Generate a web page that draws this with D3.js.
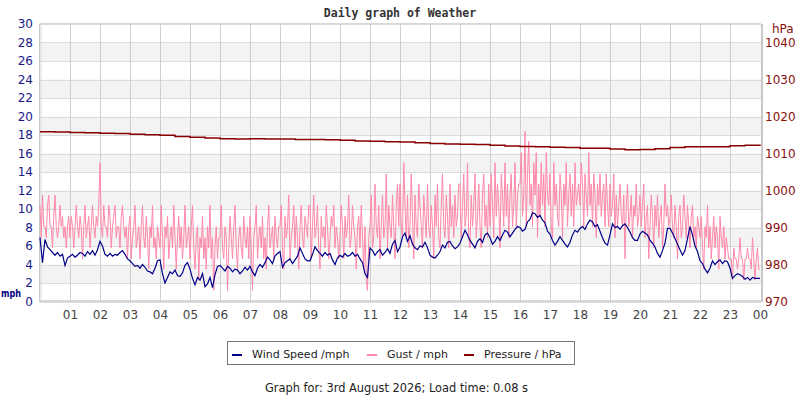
<!DOCTYPE html>
<html><head><meta charset="utf-8">
<script src="https://cdn.jsdelivr.net/npm/d3@7/dist/d3.min.js"></script>
<style>
html,body{margin:0;padding:0;background:#fff;}
svg text{font-family:"DejaVu Sans",Verdana,sans-serif;}
</style></head>
<body>
<svg id="chart" width="800" height="400"></svg>
<script>
// ---- data ----
const title = "Daily graph of Weather";
const footer = "Graph for: 3rd August 2026; Load time: 0.08 s";
const hourLabels = ["01","02","03","04","05","06","07","08","09","10","11","12","13","14","15","16","17","18","19","20","21","22","23","00"];
const mphTicks = [0,2,4,6,8,10,12,14,16,18,20,22,24,26,28,30];
const hpaTicks = [970,980,990,1000,1010,1020,1030,1040];
const seriesNames = ["Wind Speed /mph","Gust / mph","Pressure / hPa"];

// wind speed, mph, every 5 minutes from 00:00
const windSpeed = [
6.9,4.2,6.7,5.9,5.6,5.3,5.0,5.3,4.9,5.1,3.9,4.7,
4.9,5.1,4.8,5.0,5.3,5.2,4.9,5.4,5.1,5.5,5.0,5.6,
6.5,6.0,5.1,4.9,5.2,4.9,5.1,5.0,5.3,5.5,5.1,4.6,
4.4,4.1,3.8,3.9,3.6,4.0,3.7,3.3,3.2,3.0,3.6,4.4,
4.5,3.0,2.0,2.6,3.2,3.0,3.4,2.8,2.7,3.1,3.9,4.2,
3.5,2.5,1.8,2.6,2.3,3.0,1.6,1.9,2.6,1.5,2.9,3.8,
3.9,3.6,3.3,3.8,3.6,3.2,3.5,3.4,3.0,3.3,3.7,3.4,
3.8,3.2,2.8,3.6,4.0,3.7,4.2,4.8,4.5,4.1,4.9,5.2,
5.4,3.7,4.2,4.4,4.6,4.1,4.5,4.9,5.8,5.2,4.6,4.4,
4.4,5.1,5.9,5.5,5.2,4.9,5.3,5.0,5.2,4.5,4.0,4.7,
5.0,4.8,5.2,4.9,5.0,5.3,4.9,5.1,4.6,4.2,3.0,2.6,
5.8,5.5,5.0,5.4,5.6,5.0,5.3,5.7,5.2,6.2,6.6,5.4,
5.9,7.0,7.4,6.5,7.1,6.2,5.8,5.6,6.0,5.9,6.4,5.8,
5.0,4.8,4.7,5.0,5.4,6.1,5.8,6.4,6.5,6.0,5.7,5.9,
6.3,7.0,7.7,7.2,6.6,6.2,5.8,6.5,6.8,6.4,7.2,7.4,
6.9,6.2,6.5,7.0,6.6,7.2,7.7,7.5,7.0,7.4,7.8,8.1,
8.0,7.6,7.8,8.6,8.9,9.6,9.5,9.1,9.3,8.8,8.5,7.6,
7.3,6.6,6.1,6.5,7.0,6.6,6.2,5.9,6.4,7.2,7.7,7.5,
7.9,8.1,7.8,8.4,8.8,8.6,8.1,8.3,7.6,6.9,6.3,6.1,
7.2,8.4,8.0,8.1,7.8,8.2,8.4,8.0,7.5,6.9,6.6,6.6,
7.3,7.6,7.4,7.2,6.6,6.3,5.9,5.2,4.8,5.5,6.3,7.9,
7.9,7.4,6.8,6.2,5.6,5.0,5.5,6.8,8.1,7.2,6.0,5.4,
4.4,4.1,3.5,3.1,3.6,4.4,4.0,4.3,4.5,4.1,4.4,4.3,
3.6,2.5,2.8,3.0,2.9,2.7,2.4,2.6,2.3,2.6,2.5,2.5,
2.5];

// gust, mph, every 2.5 minutes from 00:00
const gust = [
10.4,6.9,11.5,8.1,8.1,6.9,10.4,11.5,8.1,8.1,5.8,9.2,11.5,8.1,6.9,8.1,10.4,8.1,9.2,6.9,8.1,5.8,8.1,9.2,
6.9,9.2,8.1,5.8,8.1,10.4,8.1,6.9,9.2,8.1,4.6,8.1,10.4,6.9,8.1,9.2,5.8,8.1,10.4,8.1,6.9,9.2,8.1,10.4,
15.0,8.1,6.9,10.4,8.1,8.1,6.9,10.4,9.2,5.8,8.1,9.2,10.4,6.9,8.1,8.1,5.8,9.2,10.4,8.1,6.9,8.1,4.6,8.1,
9.2,4.6,6.9,8.1,10.4,5.8,6.9,8.1,4.6,8.1,10.4,6.9,5.8,9.2,6.9,3.5,8.1,6.9,10.4,5.8,6.9,4.6,8.1,6.9,
5.8,10.4,6.9,3.5,8.1,6.9,9.2,4.6,6.9,8.1,5.8,10.4,6.9,3.5,6.9,9.2,5.8,8.1,4.6,6.9,10.4,5.8,6.9,8.1,
4.6,8.1,10.4,5.8,3.5,6.9,8.1,2.3,6.9,5.8,9.2,4.6,6.9,3.5,8.1,5.8,10.4,4.6,6.9,1.2,5.8,8.1,4.6,6.9,
6.9,10.4,5.8,4.6,8.1,6.9,1.2,5.8,9.2,6.9,4.6,8.1,10.4,5.8,3.5,6.9,8.1,5.8,4.6,9.2,6.9,5.8,8.1,4.6,
9.2,5.8,1.2,6.9,8.1,10.4,4.6,6.9,8.1,5.8,9.2,4.6,6.9,3.5,8.1,10.4,5.8,6.9,8.1,4.6,9.2,6.9,5.8,8.1,
8.1,10.4,5.8,3.5,9.2,6.9,8.1,11.5,4.6,6.9,8.1,10.4,5.8,9.2,6.9,3.5,8.1,10.4,6.9,5.8,9.2,8.1,6.9,10.4,
10.4,4.6,8.1,11.5,6.9,8.1,10.4,5.8,3.5,9.2,6.9,8.1,5.8,10.4,8.1,4.6,6.9,9.2,8.1,10.4,5.8,8.1,6.9,4.6,
6.9,10.4,8.1,4.6,9.2,6.9,8.1,11.5,5.8,6.9,10.4,8.1,6.9,3.5,8.1,9.2,5.8,10.4,6.9,3.5,8.1,2.3,1.2,6.9,
8.1,11.5,5.8,6.9,12.7,8.1,6.9,10.4,4.6,8.1,11.5,6.9,8.1,13.8,5.8,10.4,8.1,6.9,11.5,8.1,4.6,10.4,12.7,8.1,
12.7,8.1,6.9,15.0,10.4,6.9,11.5,5.8,8.1,13.8,9.2,4.6,11.5,8.1,6.9,12.7,10.4,8.1,5.8,11.5,9.2,6.9,12.7,8.1,
6.9,10.4,8.1,4.6,11.5,8.1,12.7,6.9,5.8,10.4,13.8,8.1,6.9,11.5,9.2,5.8,12.7,8.1,10.4,6.9,11.5,8.1,9.2,12.7,
12.7,6.9,10.4,13.8,8.1,9.2,15.0,6.9,5.8,11.5,8.1,10.4,13.8,6.9,9.2,12.7,8.1,5.8,11.5,13.8,8.1,10.4,6.9,12.7,
8.1,13.8,10.4,6.9,15.0,9.2,12.7,10.4,5.8,13.8,11.5,8.1,15.0,9.2,12.7,6.9,11.5,13.8,8.1,10.4,15.0,8.1,11.5,12.7,
12.7,16.1,9.2,11.5,18.4,8.1,13.8,17.3,10.4,12.7,8.1,15.0,11.5,16.1,6.9,12.7,9.2,15.0,10.4,13.8,8.1,16.1,11.5,10.4,
13.8,8.1,6.9,15.0,10.4,12.7,9.2,8.1,13.8,11.5,6.9,12.7,10.4,15.0,8.1,11.5,13.8,9.2,12.7,8.1,15.0,10.4,11.5,12.7,
10.4,15.0,12.7,8.1,13.8,11.5,9.2,16.1,10.4,12.7,8.1,13.8,11.5,6.9,12.7,10.4,13.8,9.2,11.5,12.7,8.1,13.8,10.4,8.1,
12.7,9.2,10.4,13.8,6.9,11.5,8.1,10.4,12.7,9.2,8.1,11.5,4.6,10.4,12.7,8.1,9.2,11.5,6.9,10.4,9.2,12.7,8.1,9.2,
11.5,8.1,10.4,12.7,6.9,9.2,10.4,4.6,8.1,11.5,9.2,5.8,10.4,8.1,11.5,6.9,9.2,10.4,5.8,8.1,12.7,9.2,10.4,8.1,
9.2,11.5,8.1,6.9,10.4,8.1,4.6,9.2,10.4,6.9,8.1,11.5,9.2,6.9,10.4,8.1,5.8,9.2,10.4,6.9,8.1,5.8,9.2,8.1,
6.9,9.2,5.8,3.5,8.1,6.9,10.4,5.8,8.1,4.6,6.9,9.2,5.8,8.1,6.9,3.5,9.2,6.9,5.8,8.1,4.6,6.9,5.8,4.6,
4.6,4.6,2.3,5.8,4.6,4.6,3.5,4.6,6.9,4.6,4.6,2.3,4.6,4.6,5.8,4.6,4.6,3.5,6.9,4.6,2.3,4.6,5.8,3.5,
3.5];

// pressure, hPa, every 30 minutes from 00:00
const pressure = [
1015.9,1015.8,1015.7,1015.6,1015.5,1015.4,1015.2,1015.1,1014.9,1014.6,
1014.4,1014.2,1014.0,1013.9,1014.0,1013.9,1013.9,1013.8,1013.8,1013.7,
1013.6,1013.4,1013.3,1013.2,1013.1,1012.9,1012.7,1012.6,1012.5,1012.4,
1012.2,1012.0,1011.9,1011.8,1011.7,1011.6,1011.4,1011.4,1011.2,1011.0,
1011.1,1011.3,1011.6,1011.8,1011.8,1011.8,1012.1,1012.2,1012.4];

// ---- chart ----
const svg = d3.select("#chart");
const L = 40, R = 761, T = 24, B = 301.5;
const x = d3.scaleLinear().domain([0, 24]).range([L, 760]);
const yL = d3.scaleLinear().domain([0, 30]).range([B, T]);
const yR = d3.scaleLinear().domain([970, 1045]).range([B, T]);

const windPts = windSpeed.map((v, i) => [i / 12, v]);
const gustPts = gust.map((v, i) => [i / 24, v]);
const presPts = pressure.map((v, i) => [i / 2, v]);

// title
svg.append("text").attr("x", 400).attr("y", 17).attr("text-anchor", "middle")
  .style("font-family", "'DejaVu Sans Mono',monospace").style("font-weight", "bold")
  .style("font-size", "11.5px").attr("fill", "#333").text(title);

// bands
const bands = mphTicks.slice(0, -1).filter((t, i) => i % 2 === 1);
svg.append("g").selectAll("rect").data(bands).join("rect")
  .attr("x", L).attr("width", R - L)
  .attr("y", d => yL(d + 2)).attr("height", d => yL(d) - yL(d + 2))
  .attr("fill", "#f3f3f3");

// horizontal grid
svg.append("g").selectAll("line").data(mphTicks).join("line")
  .attr("x1", L).attr("x2", R)
  .attr("y1", d => Math.round(yL(d)) + 0.5).attr("y2", d => Math.round(yL(d)) + 0.5)
  .attr("stroke", "#dcdcdc").attr("stroke-width", 1);

// vertical grid
svg.append("g").selectAll("line").data(d3.range(1, 24)).join("line")
  .attr("x1", d => Math.round(x(d)) + 0.5).attr("x2", d => Math.round(x(d)) + 0.5)
  .attr("y1", T).attr("y2", B)
  .attr("stroke", "#cfcfcf").attr("stroke-width", 1);

// frame
svg.append("line").attr("x1", 39.5).attr("x2", 39.5).attr("y1", T).attr("y2", B).attr("stroke", "#c8c8c8");
svg.append("line").attr("x1", 41).attr("x2", 41).attr("y1", T).attr("y2", B).attr("stroke", "#d8d8d8");
svg.append("line").attr("x1", 762).attr("x2", 762).attr("y1", T).attr("y2", B).attr("stroke", "#c8c8c8").attr("stroke-width", 2);
svg.append("line").attr("x1", L).attr("x2", R).attr("y1", 23.5).attr("y2", 23.5).attr("stroke", "#d8d8d8");
svg.append("line").attr("x1", 39).attr("x2", 763).attr("y1", 301).attr("y2", 301).attr("stroke", "#c8c8c8").attr("stroke-width", 1.5);

// series
const lineL = d3.line().x(d => x(d[0])).y(d => yL(d[1]));
const lineR = d3.line().x(d => x(d[0])).y(d => yR(d[1])).curve(d3.curveStepAfter);

svg.append("path").datum(gustPts).attr("d", lineL)
  .attr("fill", "none").attr("stroke", "#ff88aa").attr("stroke-width", 1);
svg.append("path").datum(windPts).attr("d", lineL)
  .attr("fill", "none").attr("stroke", "#000088").attr("stroke-width", 1.2);
svg.append("path").datum(presPts).attr("d", lineR)
  .attr("fill", "none").attr("stroke", "#880000").attr("stroke-width", 1.5);

// axes
const axL = svg.append("g").attr("transform", `translate(${L},0)`)
  .call(d3.axisLeft(yL).tickValues(mphTicks).tickSize(0).tickPadding(7));
axL.select(".domain").remove();
axL.selectAll("text").attr("fill", "#1a1a8a").style("font-size", "12px");

const axR = svg.append("g").attr("transform", `translate(${R},0)`)
  .call(d3.axisRight(yR).tickValues(hpaTicks).tickFormat(d3.format("d")).tickSize(0).tickPadding(4));
axR.select(".domain").remove();
axR.selectAll("text").attr("fill", "#8b1010").style("font-size", "12px");

const axB = svg.append("g").attr("transform", `translate(0,${B})`)
  .call(d3.axisBottom(x).tickValues(d3.range(1, 25)).tickFormat((d, i) => hourLabels[i]).tickSize(0).tickPadding(9));
axB.select(".domain").remove();
axB.selectAll("text").attr("fill", "#444").style("font-size", "12px");

// unit labels
svg.append("text").attr("x", 1).attr("y", 297).style("font-weight", "bold").style("font-size", "10.5px")
  .attr("textLength", 20).attr("lengthAdjust", "spacingAndGlyphs")
  .attr("fill", "#000080").text("mph");
svg.append("text").attr("x", 772).attr("y", 33).style("font-size", "12px")
  .attr("fill", "#8b1010").text("hPa");

// legend
const lg = svg.append("g");
lg.append("rect").attr("x", 227.5).attr("y", 341.5).attr("width", 347).attr("height", 23)
  .attr("fill", "#fff").attr("stroke", "#777");
const legendColors = ["#000088", "#ff88aa", "#880000"];
const legendX = [232, 367, 464];
seriesNames.forEach((n, i) => {
  lg.append("line").attr("x1", legendX[i]).attr("x2", legendX[i] + 10)
    .attr("y1", 355).attr("y2", 355).attr("stroke", legendColors[i]).attr("stroke-width", 2);
  lg.append("text").attr("x", legendX[i] + 20).attr("y", 357.5).style("font-size", "11px")
    .attr("fill", "#222").text(n);
});

// footer
svg.append("text").attr("x", 396.5).attr("y", 391.5).attr("text-anchor", "middle")
  .style("font-size", "11.4px").attr("fill", "#222").text(footer);
</script>
</body></html>
